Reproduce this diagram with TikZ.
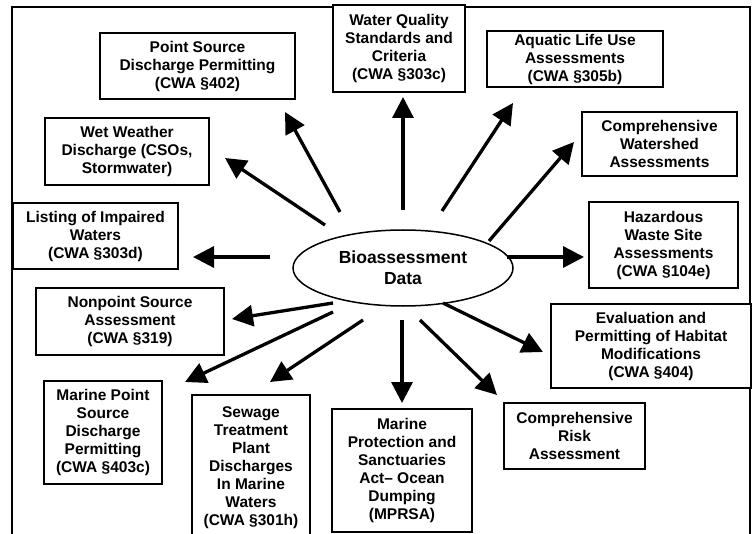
\documentclass[tikz,border=0pt]{standalone}
\usepackage{fontspec}
\setmainfont{Liberation Sans}
\usetikzlibrary{arrows.meta,shapes.geometric}
\begin{document}
\begin{tikzpicture}[x=1pt,y=-1pt,
  box/.style={draw, fill=white, line width=1.6pt, align=center,
    font=\bfseries\fontsize{15.5}{18}\selectfont, inner sep=0pt},
  arr/.style={line width=3.3pt, -{Triangle[length=21pt,width=21pt]}}]
\useasboundingbox (0,0) rectangle (754,534);
% frame
\draw[line width=2pt] (12,545) -- (12,7) -- (750,7) -- (750,545);
% boxes
\node[box, minimum width=195pt, minimum height=66pt] (ps) at (197.5,66) {Point Source\\Discharge Permitting\\(CWA §402)};
\node[box, minimum width=132pt, minimum height=87pt] (wq) at (399,48.5) {Water Quality\\Standards and\\Criteria\\(CWA §303c)};
\node[box, minimum width=176pt, minimum height=56pt] (al) at (575,59) {Aquatic Life Use\\Assessments\\(CWA §305b)};
\node[box, minimum width=155pt, minimum height=64pt] (cw) at (659.5,144) {Comprehensive\\Watershed\\Assessments};
\node[box, minimum width=164pt, minimum height=67pt] (ww) at (127,151.5) {Wet Weather\\Discharge (CSOs,\\Stormwater)};
\node[box, minimum width=165pt, minimum height=66pt] (li) at (95.5,236) {Listing of Impaired\\Waters\\(CWA §303d)};
\node[box, minimum width=188pt, minimum height=67pt] (np) at (130,321.5) {Nonpoint Source\\Assessment\\(CWA §319)};
\node[box, minimum width=149pt, minimum height=86pt] (hz) at (663.5,245) {Hazardous\\Waste Site\\Assessments\\(CWA §104e)};
\node[box, minimum width=200pt, minimum height=84pt] (ev) at (651,346) {Evaluation and\\Permitting of Habitat\\Modifications\\(CWA §404)};
\node[box, minimum width=118pt, minimum height=103pt] (mp) at (103,432.5) {Marine Point\\Source\\Discharge\\Permitting\\(CWA §403c)};
\node[box, minimum width=118pt, minimum height=145pt] (sw) at (251,467.5) {Sewage\\Treatment\\Plant\\Discharges\\In Marine\\Waters\\(CWA §301h)};
\node[box, minimum width=140pt, minimum height=123pt] (mr) at (402,470.5) {Marine\\Protection and\\Sanctuaries\\Act-- Ocean\\Dumping\\(MPRSA)};
\node[box, minimum width=141pt, minimum height=66pt] (cr) at (574.5,436) {Comprehensive\\Risk\\Assessment};
% center ellipse
\node[draw, ellipse, line width=1.5pt, minimum width=220pt, minimum height=76pt, inner sep=0pt, align=center,
  font=\bfseries\fontsize{17.5}{21}\selectfont] (bio) at (403,268) {Bioassessment\\Data};
% arrow ends
\coordinate (sPS) at (340,212); \coordinate (tPS) at (285,112);
\coordinate (sWW) at (325,225); \coordinate (tWW) at (225,158);
\coordinate (sWQ) at (403,210); \coordinate (tWQ) at (403,97);
\coordinate (sAL) at (442,211); \coordinate (tAL) at (513,103);
\coordinate (sCW) at (489,241); \coordinate (tCW) at (574,142);
\coordinate (sHZ) at (507,257); \coordinate (tHZ) at (584,257);
\coordinate (sLI) at (270,257); \coordinate (tLI) at (193,257);
\coordinate (sNP) at (333,303); \coordinate (tNP) at (232,319);
\coordinate (sMP) at (333,312); \coordinate (tMP) at (185,382);
\coordinate (sSW) at (363,320); \coordinate (tSW) at (270,382);
\coordinate (sMR) at (402,320); \coordinate (tMR) at (402,403);
\coordinate (sCR) at (420,320); \coordinate (tCR) at (497,395);
\coordinate (sEV) at (443,303); \coordinate (tEV) at (543,352);
\foreach \n in {PS,WW,WQ,AL,CW,HZ,LI,NP,MP,SW,MR,CR,EV}
  \draw[arr] (s\n) -- (t\n);
\end{tikzpicture}
\end{document}
